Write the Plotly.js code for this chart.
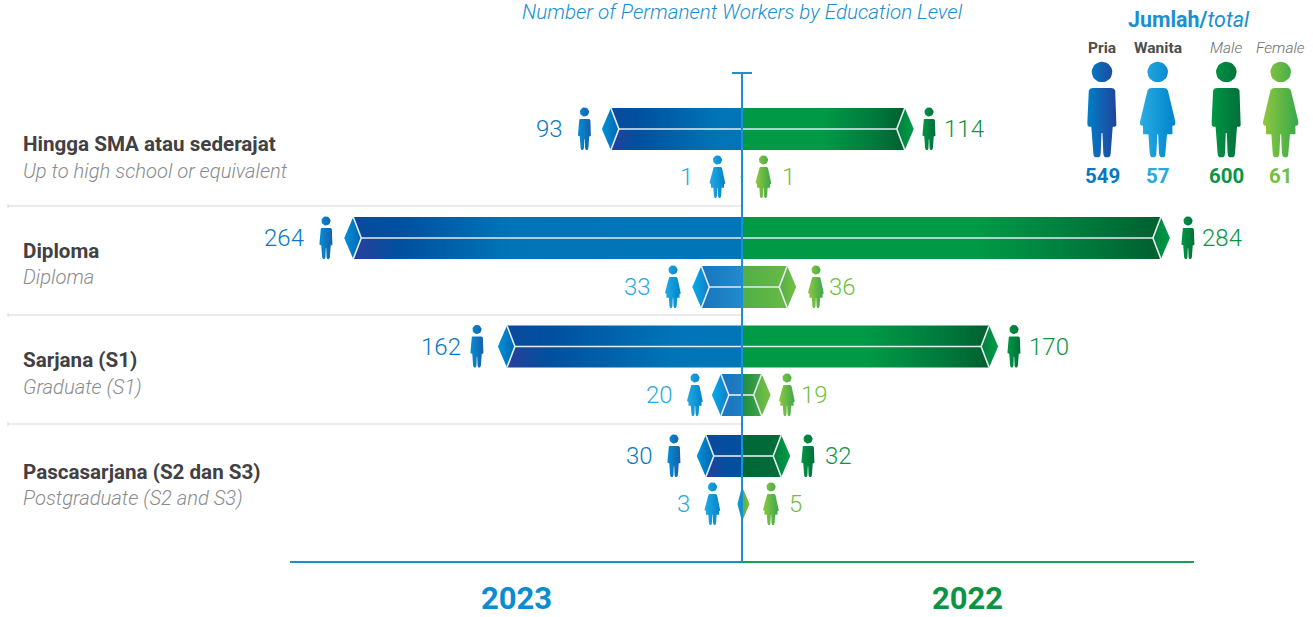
<!DOCTYPE html>
<html>
<head>
<meta charset="utf-8">
<script src="https://cdn.plot.ly/plotly-3.0.1.min.js"></script>
<style>html,body{margin:0;padding:0;background:#fff;overflow:hidden}#chart{width:1313px;height:617px}</style>
</head>
<body>
<div id="chart"></div>
<script>
// ---------- data ----------
const levelsId = ['Hingga SMA atau sederajat', 'Diploma', 'Sarjana (S1)', 'Pascasarjana (S2 dan S3)'];
const levelsEn = ['Up to high school or equivalent', 'Diploma', 'Graduate (S1)', 'Postgraduate (S2 and S3)'];
const male2023 = [93, 264, 162, 30];
const female2023 = [1, 33, 20, 3];
const male2022 = [114, 284, 170, 32];
const female2022 = [1, 36, 19, 5];
const legendHeaders = ['Pria', 'Wanita', 'Male', 'Female'];
const legendTotals = [549, 57, 600, 61];
const yearLabels = ['2023', '2022'];
const chartTitle = 'Number of Permanent Workers by Education Level';
const axisLimit = 300;

// ---------- layout constants (page pixels) ----------
const W = 1313, H = 617, CX = 742, SCALE = 452 / axisLimit;
const X = px => (px - CX) / SCALE;
const rowMidMale = [129, 238, 346.5, 456];
const rowMidFemale = [177, 287, 395, 504];
const HALF = 21, TIP = 9, BEVEL = 8;

const C = {m23:'#0a78bf', f23:'#2aa9e0', m22:'#0b9444', f22:'#72bf44', blue:'#1a8fd3', dark:'#414042', grey:'#8a8b8e', rule:'#d6d7d9'};

// gradient stops [position, colour] (low x -> high x) for each bar body: top half, bottom half
const NT = '#0a4a9d', NB = '#27409a', B1 = '#00509f', B2 = '#0074b7', B3 = '#0075b8';
const bodyM23Top = [
  [[0,NT],[.2,B1],[.8,B2],[1,B3]],
  [[0,NT],[.12,B1],[.4,B2],[1,B3]],
  [[0,NT],[.18,B1],[.7,B2],[1,B3]],
  [[0,NT],[1,B1]]];
const bodyM23Bottom = [
  [[0,NB],[.2,B1],[.8,B2],[1,B3]],
  [[0,NB],[.12,B1],[.4,B2],[1,B3]],
  [[0,NB],[.18,B1],[.7,B2],[1,B3]],
  [[0,NB],[.6,B1],[1,B1]]];
const bodyF23 = [
  [[0,'#1b75bc'],[1,'#1b75bc']],
  [[0,'#1b75bc'],[.5,'#1c80c4'],[1,'#218bcd']],
  [[0,'#1b75bc'],[.5,'#1b78bf'],[1,'#1b80c5']],
  [[0,'#1b75bc'],[1,'#1b75bc']]];
const G1 = '#009a46', G2 = '#00793c', G3 = '#005f30';
const bodyM22 = [
  [[0,G1],[.5,G1],[.82,G2],[1,G3]],
  [[0,G1],[.56,G1],[.82,G2],[1,G3]],
  [[0,G1],[.5,G1],[.82,G2],[1,G3]],
  [[0,'#006837'],[.7,'#006a38'],[1,'#00743a']]];
const bodyF22 = [
  [[0,'#72bf44'],[1,'#72bf44']],
  [[0,'#50ae47'],[.5,'#5cb446'],[1,'#68ba45']],
  [[0,'#1f8c3f'],[.5,'#2f9844'],[1,'#43a648']],
  [[0,'#72bf44'],[1,'#72bf44']]];
const tipBlue = [[0,'#0092d8'],[1,'#0065b0']], tipLight = [[0,'#00aeef'],[1,'#1b78bf']];
const tipGreen = [[0,'#007f3d'],[1,'#009c47']], tipLime = [[0,'#54ae47'],[1,'#76c043']];

const iconXm23 = [584.5, 326, 477, 674];
const iconXf23 = [717.5, 673, 695, 712.5];
const iconXm22 = [929, 1188, 1014, 808];
const iconXf22 = [763.5, 816, 787, 771];
const labelXm23 = [563, 304, 461, 653];
const labelXf23 = [693, 651, 673, 690];
const labelXm22 = [944, 1202, 1029, 825];
const labelXf22 = [782, 829, 801, 789];

// icon outlines, right half, legend size, offsets from head centre
const maleHalf = [[9,16],[11.6,16.4],[13.2,18.5],[14.7,51],[14.4,53.6],[13,54.7],[10.7,54.7],[8.7,81.3],[8.2,84],[6.8,85.3],[3.2,85.3],[1.8,84],[1.3,81.3],[0.5,61]];
const femaleHalf = [[6,16],[8.6,16.4],[10.2,18.5],[17.7,50],[17.4,52.5],[16,53.7],[14.7,53.7],[14.7,62.3],[9.3,62.3],[8,81.3],[7.4,84],[6.2,85.3],[3.2,85.3],[1.9,84],[1.3,81.3],[0.4,62.3]];

const traces = [];
function poly(xs, ys, stops, start, stop) {
  traces.push({
    type:'scatter', mode:'lines', x:xs, y:ys, fill:'toself',
    line:{width:0, color:'rgba(0,0,0,0)'}, hoverinfo:'skip', showlegend:false,
    fillgradient:{type:'horizontal', start:start, stop:stop, colorscale:stops}
  });
}
function bevelLines(xs, ys) {
  traces.push({type:'scatter', mode:'lines', x:xs, y:ys, line:{width:1.6, color:'#e6ebf3'}, hoverinfo:'skip', showlegend:false});
}
function bar(value, side, mid, topStops, bottomStops, tipStops, peer) {
  const tip = side * value;                  // data units
  const tipW = TIP / SCALE, bev = BEVEL / SCALE;
  if (value <= tipW) {                       // only the arrow head is visible
    const h = HALF * Math.min(1, Math.max(value, peer) / tipW);
    poly([tip,0,0,tip],[mid,mid-h,mid+h,mid], tipStops, Math.min(tip,0), Math.max(tip,0));
    return;
  }
  const corner = side * (value - tipW);
  const inner = side * Math.max(value - tipW - bev, 0);
  const t = mid - HALF, b = mid + HALF;
  const lo = Math.min(corner,0), hi = Math.max(corner,0);
  poly([0,corner,inner,0,0],[t,t,mid,mid,t], topStops, lo, hi);
  poly([0,inner,corner,0,0],[mid,mid,b,b,mid], bottomStops, lo, hi);
  poly([tip,corner,inner,corner,tip],[mid,t,mid,b,mid], tipStops, Math.min(tip,inner), Math.max(tip,inner));
  bevelLines([corner,inner,corner,null,inner,0],[t,mid,b,null,mid,mid]);
}
function icon(half, cxPx, headY, s, stops) {
  const xs = [], ys = [];
  const cx = X(cxPx);
  for (let i = 0; i <= 28; i++) {
    const a = i / 28 * 2 * Math.PI;
    xs.push(cx + Math.cos(a) * 10.3 * s / SCALE);
    ys.push(headY + Math.sin(a) * 10.3 * s);
  }
  xs.push(null); ys.push(null);
  half.forEach(p => { xs.push(cx + p[0]*s/SCALE); ys.push(headY + p[1]*s); });
  half.slice().reverse().forEach(p => { xs.push(cx - p[0]*s/SCALE); ys.push(headY + p[1]*s); });
  xs.push(cx + half[0][0]*s/SCALE); ys.push(headY + half[0][1]*s);
  poly(xs, ys, stops, cx - 16.5*s/SCALE, cx + 16.5*s/SCALE);
}

const annotations = [];
function txt(text, px, py, size, color, anchor, extra) {
  annotations.push({
    text:text, x:X(px), y:py, xref:'x', yref:'y', showarrow:false, xanchor:anchor || 'center', yanchor:'middle',
    font:Object.assign({family:'Roboto, sans-serif', size:size, color:color}, extra || {}),
    borderpad:0, borderwidth:0
  });
}

const iconM23 = [[0,'#0092d8'],[1,'#1a5aa6']], iconF23 = [[0,'#22a9e1'],[1,'#0085cc']];
const iconM22 = [[0,'#009a46'],[1,'#006c38']], iconF22 = [[0,'#8dc63f'],[1,'#3aa94a']];
const ICON_S = 0.445, HEAD_UP = 17;
const LIGHT = {weight:300};

for (let i = 0; i < levelsId.length; i++) {
  bar(male2023[i], -1, rowMidMale[i], bodyM23Top[i], bodyM23Bottom[i], tipBlue, male2022[i]);
  bar(male2022[i], 1, rowMidMale[i], bodyM22[i], bodyM22[i], tipGreen, male2023[i]);
  bar(female2023[i], -1, rowMidFemale[i], bodyF23[i], bodyF23[i], tipLight, female2022[i]);
  bar(female2022[i], 1, rowMidFemale[i], bodyF22[i], bodyF22[i], tipLime, female2023[i]);

  icon(maleHalf, iconXm23[i], rowMidMale[i]-HEAD_UP, ICON_S, iconM23);
  icon(maleHalf, iconXm22[i], rowMidMale[i]-HEAD_UP, ICON_S, iconM22);
  icon(femaleHalf, iconXf23[i], rowMidFemale[i]-HEAD_UP, ICON_S, iconF23);
  icon(femaleHalf, iconXf22[i], rowMidFemale[i]-HEAD_UP, ICON_S, iconF22);

  txt(String(male2023[i]), labelXm23[i], rowMidMale[i], 24, C.m23, 'right', LIGHT);
  txt(String(male2022[i]), labelXm22[i], rowMidMale[i], 24, C.m22, 'left', LIGHT);
  txt(String(female2023[i]), labelXf23[i], rowMidFemale[i], 24, C.f23, 'right', LIGHT);
  txt(String(female2022[i]), labelXf22[i], rowMidFemale[i], 24, C.f22, 'left', LIGHT);
}

const labelY = [[144,171],[251,277],[360,387],[472,498]];
levelsId.forEach((t,i) => {
  txt('<b>'+t+'</b>', 23, labelY[i][0], 20.6, C.dark, 'left');
  txt('<i>'+levelsEn[i]+'</i>', 23, labelY[i][1], 20.2, C.grey, 'left', LIGHT);
});

txt('<i>'+chartTitle+'</i>', 742, 12, 20.6, C.blue, 'center', LIGHT);
txt('<b>Jumlah/</b><i>total</i>', 1189, 19, 21.4, C.blue);
txt('<b>'+yearLabels[0]+'</b>', 516, 598.5, 31, '#0a8cd3');
txt('<b>'+yearLabels[1]+'</b>', 967.5, 598.5, 31, '#0b9444');

const legX = [1102, 1157.7, 1226.3, 1280.7];
const legHalf = [maleHalf, femaleHalf, maleHalf, femaleHalf];
const legColors = [[[0,'#0083cb'],[1,'#233f96']], [[0,'#29abe2'],[1,'#0085cc']], [[0,'#009a46'],[1,'#006c38']], [[0,'#8dc63f'],[1,'#39a94a']]];
const legTotColors = [C.m23, C.f23, C.m22, C.f22];
legendHeaders.forEach((t,i) => {
  txt(i < 2 ? '<b>'+t+'</b>' : '<i>'+t+'</i>', legX[i], 48, 15.5, i < 2 ? '#4d4d4f' : '#6d6e71', 'center', i < 2 ? {} : LIGHT);
  icon(legHalf[i], legX[i], 72, 1, legColors[i]);
  txt('<b>'+legendTotals[i]+'</b>', legX[i], 176, 20.5, legTotColors[i]);
});

// ---------- rules and axis lines ----------
const shapes = [];
function seg(x0,y0,x1,y1,color,width) {
  shapes.push({type:'line', xref:'x', yref:'y', x0:x0, y0:y0, x1:x1, y1:y1, layer:'above', line:{color:color, width:width}});
}
[206,315,424].forEach(y => {
  seg(X(8), y, 0, y, C.rule, 1.2);
  seg(X(8), y-2, X(8), y+2, C.rule, 1);
});
seg(-axisLimit, 562, 0, 562, C.blue, 2);
seg(0, 562, axisLimit, 562, '#18a04e', 2);
seg(0, 73, 0, 562, C.blue, 2);
seg(X(732), 73, X(752), 73, C.blue, 2);

const layout = {
  width:W, height:H, margin:{l:0,r:0,t:0,b:0,pad:0},
  paper_bgcolor:'#fff', plot_bgcolor:'#fff', showlegend:false, hovermode:false,
  xaxis:{range:[X(0),X(W)], visible:false, fixedrange:true},
  yaxis:{range:[H,0], visible:false, fixedrange:true},
  shapes:shapes, annotations:annotations
};
Plotly.newPlot('chart', traces, layout, {displayModeBar:false, staticPlot:true});
</script>
</body>
</html>
